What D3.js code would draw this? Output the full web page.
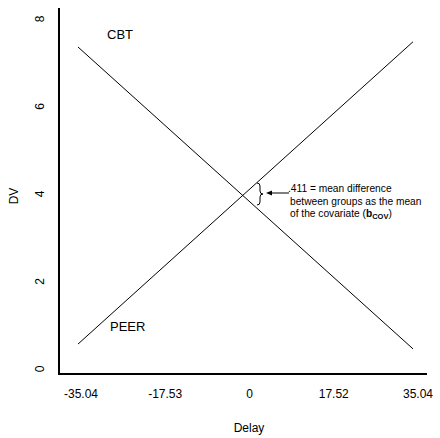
<!DOCTYPE html>
<html><head><meta charset="utf-8">
<script src="https://cdn.jsdelivr.net/npm/d3@7"></script>
<style>body{margin:0;background:#fff}svg{display:block}text{font-family:"Liberation Sans",Arial,sans-serif;fill:#000}</style>
</head><body><svg id="c" width="440" height="438"></svg>
<script>
const xTicks = [-35.04, -17.53, 0, 17.52, 35.04];
const xTickLabels = ["-35.04", "-17.53", "0", "17.52", "35.04"];
const yTicks = [0, 2, 4, 6, 8];
const groups = ["CBT", "PEER"];
const delayEnds = [-35.04, 35.04];
const cbtValues = [7.36, 0.46];
const peerValues = [0.57, 7.48];
const noteLines = [".411 = mean difference", "between groups as the mean", "of the covariate ("];

const svg = d3.select("#c");
const x = d3.scaleLinear().domain([-35.04, 35.04]).range([78, 413]);
const xLab = d3.scaleLinear().domain([-35.04, 35.04]).range([81, 418]);
const y = d3.scaleLinear().domain([0, 8]).range([369, 19]);

// axes frame
svg.append("line").attr("x1",59).attr("x2",59).attr("y1",8).attr("y2",375).attr("stroke","#000").attr("stroke-width",2);
svg.append("line").attr("x1",58).attr("x2",427).attr("y1",374).attr("y2",374).attr("stroke","#000").attr("stroke-width",2);

// x tick labels
svg.selectAll(".xt").data(xTicks).enter().append("text")
  .attr("x", d=>xLab(d)).attr("y", 398).attr("text-anchor","middle").attr("font-size",12)
  .text((d,i)=>xTickLabels[i]);
// y tick labels (rotated)
svg.selectAll(".yt").data(yTicks).enter().append("text")
  .attr("transform", d=>`translate(44,${y(d)}) rotate(-90)`).attr("text-anchor","middle").attr("font-size",12)
  .text(d=>d);

svg.append("text").attr("x",249).attr("y",432).attr("text-anchor","middle").attr("font-size",12).text("Delay");
svg.append("text").attr("transform","translate(18,196) rotate(-90)").attr("text-anchor","middle").attr("font-size",12).text("DV");

const line = d3.line().x(d=>x(d[0])).y(d=>y(d[1]));
[cbtValues, peerValues].forEach(vals=>{
  svg.append("path").datum(delayEnds.map((d,i)=>[d,vals[i]])).attr("d",line)
    .attr("fill","none").attr("stroke","#000").attr("stroke-width",1);
});

svg.append("text").attr("x",107).attr("y",39).attr("font-size",13).text(groups[0]);
svg.append("text").attr("x",110).attr("y",331).attr("font-size",13).text(groups[1]);

// bracket
svg.append("path").attr("d","M257,183 Q260,183 260,186 L260,191 Q260,194 263,194 Q260,194 260,197 L260,202 Q260,205 257,205")
  .attr("fill","none").attr("stroke","#000").attr("stroke-width",1);
// arrow
svg.append("line").attr("x1",270).attr("x2",289).attr("y1",193).attr("y2",193).attr("stroke","#000").attr("stroke-width",1);
svg.append("path").attr("d","M266,193 L272,190.5 L272,195.5 Z").attr("fill","#000");

const note = svg.append("g");
noteLines.forEach((t,i)=>{
  note.append("text").attr("x", i===0?288:290).attr("y",192+i*12.5).attr("font-size",10.2).text(t);
});
const last = note.select("text:last-child");
last.append("tspan").attr("font-weight","bold").text("b");
last.append("tspan").attr("font-weight","bold").attr("font-size",7.5).attr("dy",2).text("COV");
last.append("tspan").attr("dy",-2).text(")");
</script></body></html>
